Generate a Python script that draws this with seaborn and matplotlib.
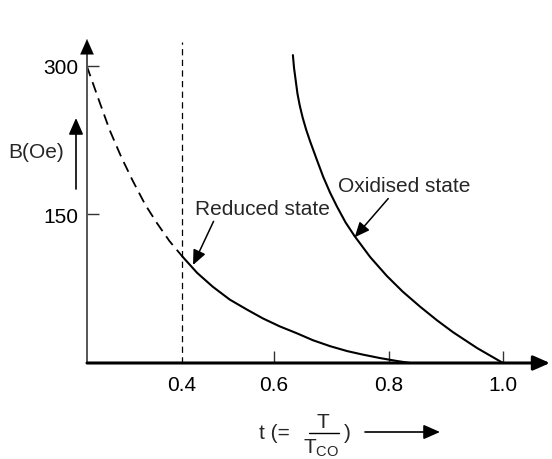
import numpy as np
import matplotlib
matplotlib.use("Agg")
import matplotlib.pyplot as plt
from matplotlib.lines import Line2D
from matplotlib.patches import FancyArrowPatch
import seaborn as sns

# ---- data ----
reduced_dashed_t = [0.193, 0.222, 0.243, 0.268, 0.293, 0.320, 0.346, 0.373, 0.400]
reduced_dashed_B = [300, 262, 235, 208, 184, 160, 141, 123, 108]
reduced_t = [0.400, 0.433, 0.467, 0.504, 0.541, 0.576, 0.610, 0.640, 0.668,
             0.698, 0.728, 0.755, 0.785, 0.815, 0.838]
reduced_B = [108, 91, 77, 64, 54, 45, 37, 30, 23, 17, 12, 8.5, 5, 2, 0]
oxidised_t = [0.633, 0.635, 0.638, 0.641, 0.645, 0.650, 0.656, 0.663, 0.675,
              0.686, 0.698, 0.710, 0.725, 0.741, 0.768, 0.797, 0.825, 0.855,
              0.885, 0.913, 0.955, 1.000]
oxidised_B = [311, 298, 285, 272, 260, 248, 236, 224, 205, 188, 172, 158, 142,
              128, 107, 88, 72, 57, 43, 31, 15, 0]
xtick_vals = [0.4, 0.6, 0.8, 1.0]
xtick_labels = ["0.4", "0.6", "0.8", "1.0"]
ytick_vals = [150, 300]
ytick_labels = ["150", "300"]
boundary_t = 0.4

sns.set_style("white")
plt.rcParams["font.family"] = ["Liberation Sans", "DejaVu Sans"]
plt.rcParams["mathtext.fontset"] = "custom"
plt.rcParams["mathtext.rm"] = "Liberation Sans"
plt.rcParams["mathtext.it"] = "Liberation Sans:italic"

W, H = 552, 460
fig = plt.figure(figsize=(W / 100, H / 100), dpi=100)
left_px, right_px, bottom_px, top_px = 87, 550, 364, 40
ax = fig.add_axes([left_px / W, 1 - bottom_px / H,
                   (right_px - left_px) / W, (bottom_px - top_px) / H])

# the original axis is drawn with a compressed segment below 0.6
ratio = 460 / 572.5


def fwd(t):
    t = np.asarray(t, dtype=float)
    return np.where(t < 0.6, 0.6 + (t - 0.6) * ratio, t)


def inv(u):
    u = np.asarray(u, dtype=float)
    return np.where(u < 0.6, 0.6 + (u - 0.6) / ratio, u)


ax.set_xscale("function", functions=(fwd, inv))
ax.set_xlim(0.6 - (274 - left_px) / 460, 0.6 + (right_px - 274) / 572.5)
ax.set_ylim(0, (bottom_px - top_px) / 0.99)

for s in ax.spines.values():
    s.set_visible(False)

# curves
sns.lineplot(x=reduced_dashed_t, y=reduced_dashed_B, ax=ax, color="black",
             lw=1.3, linestyle=(0, (6, 3.5)), sort=False, estimator=None)
sns.lineplot(x=reduced_t, y=reduced_B, ax=ax, color="black", lw=1.5,
             sort=False, estimator=None)
sns.lineplot(x=oxidised_t, y=oxidised_B, ax=ax, color="black", lw=1.5,
             sort=False, estimator=None)

# vertical dashed boundary
ax.plot([boundary_t, boundary_t], [0, (bottom_px - 43) / 0.99], color="black",
        lw=0.9, linestyle=(0, (5, 3.5)))

head = "-|>,head_length=0.5,head_width=0.22"
# axes with arrowheads
ax.plot([0, 0], [0, 0.97], transform=ax.transAxes, color="#555555", lw=1.4,
        clip_on=False, solid_capstyle="butt")
ax.annotate("", xy=(0, 1), xytext=(0, 0.9), xycoords="axes fraction",
            arrowprops=dict(arrowstyle=head, color="black", lw=0.1,
                            mutation_scale=22, shrinkA=0, shrinkB=0),
            annotation_clip=False)
ax.annotate("", xy=(1, 0), xytext=(0, 0), xycoords="axes fraction",
            arrowprops=dict(arrowstyle=head, color="black", lw=2.2,
                            mutation_scale=20, shrinkA=0, shrinkB=0),
            annotation_clip=False)

# ticks
ax.set_xticks(xtick_vals)
ax.set_xticklabels(xtick_labels)
ax.set_yticks(ytick_vals)
ax.set_yticklabels(ytick_labels)
ax.tick_params(axis="both", which="major", direction="in", length=8.5,
               width=1.0, color="#333333", labelsize=15, labelcolor="black")
ax.tick_params(axis="x", pad=9, bottom=True)
ax.tick_params(axis="y", pad=6, left=True)
ax.minorticks_off()
ax.xaxis.get_major_ticks()[0].tick1line.set_visible(False)
ax.set_xlabel("")
ax.set_ylabel("")

# annotations
ax.annotate("Reduced state", xy=(0.424, 99), xytext=(0.428, 156),
            fontsize=15, ha="left", va="center",
            arrowprops=dict(arrowstyle=head, color="black", lw=1.1,
                            mutation_scale=18, shrinkA=0, shrinkB=0,
                            relpos=(0.15, 0.0)))
ax.annotate("Oxidised state", xy=(0.741, 127), xytext=(0.712, 179),
            fontsize=15, ha="left", va="center",
            arrowprops=dict(arrowstyle=head, color="black", lw=1.1,
                            mutation_scale=18, shrinkA=0, shrinkB=0,
                            relpos=(0.4, 0.0)))

# y label with upward arrow
fig.text(8 / W, 1 - 152 / H, "B(Oe)", fontsize=15, ha="left", va="center")
fig.add_artist(FancyArrowPatch(
    (76, H - 190), (76, H - 119), transform=None, arrowstyle=head,
    mutation_scale=20, color="black", lw=1.2, shrinkA=0, shrinkB=0))

# x label: t (= T / T_CO ) with arrow
fig.text(259 / W, 1 - 434 / H, "t (=", fontsize=15, ha="left", va="center")
fig.text(323 / W, 1 - 423 / H, "T", fontsize=15, ha="center", va="center")
fig.add_artist(Line2D([309, 339], [H - 434, H - 434], transform=None,
                      color="black", lw=1.0))
fig.text(321 / W, 1 - 448 / H, r"T$_{\mathrm{CO}}$", fontsize=15,
         ha="center", va="center")
fig.text(344 / W, 1 - 434 / H, ")", fontsize=15, ha="left", va="center")
fig.add_artist(FancyArrowPatch(
    (365, H - 433), (440, H - 433), transform=None, arrowstyle=head,
    mutation_scale=20, color="black", lw=1.2, shrinkA=0, shrinkB=0))

fig.savefig("out.png", dpi=100)
